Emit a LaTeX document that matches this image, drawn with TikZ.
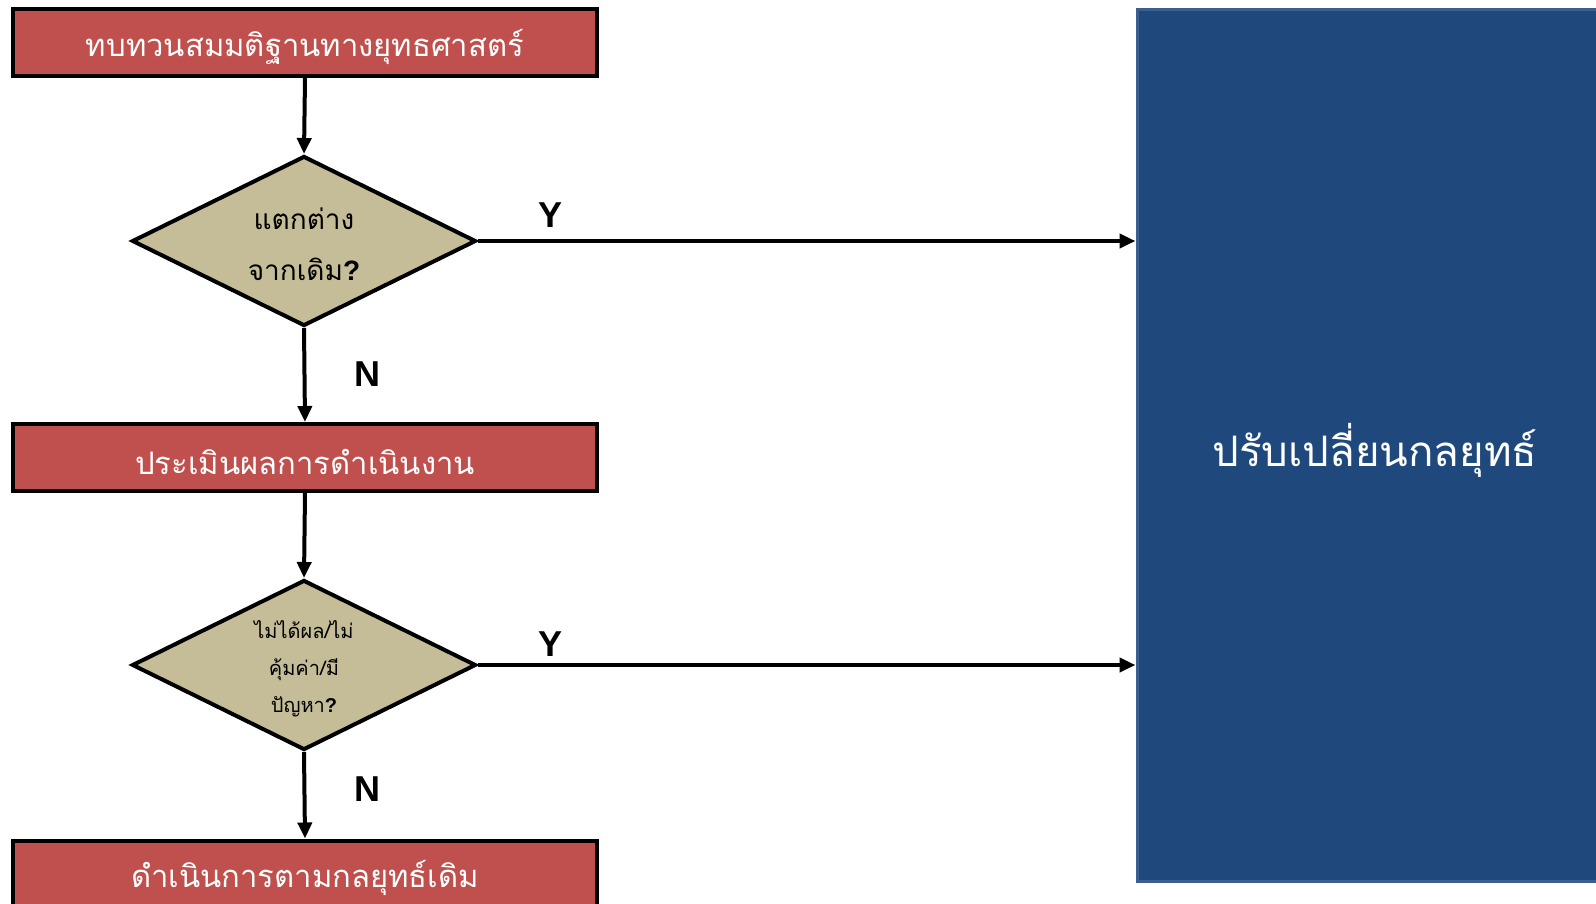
\documentclass[tikz,border=0pt]{standalone}
\usepackage{fontspec}
\newfontfamily\thaifont[Script=Thai]{Loma}
\newfontfamily\latinfont{Liberation Sans}
\usetikzlibrary{shapes.geometric,arrows.meta}
\definecolor{boxred}{HTML}{C0504D}
\definecolor{tan}{HTML}{C4BD97}
\definecolor{navy}{HTML}{1F497D}
\definecolor{navyedge}{HTML}{3A5F8E}
\newcommand{\qmark}{{\latinfont\bfseries ?}}
% lower a line of text without changing the size the node sees
\newcommand{\sunk}[2]{\raisebox{-#1}[\height][\depth]{#2}}
\tikzset{
  stepbox/.style={draw=black, line width=4pt, fill=boxred, text=white,
    minimum width=584pt, minimum height=67pt, inner sep=0pt,
    font=\thaifont\fontsize{31}{36}\selectfont},
  decision/.style={diamond, aspect=2, draw=black, line width=4pt, fill=tan,
    minimum width=344pt, minimum height=170pt, inner sep=0pt, align=center},
  flow/.style={draw=black, line width=4pt, -{Triangle[length=16pt,width=14pt]}},
  yn/.style={font=\latinfont\bfseries\fontsize{36}{40}\selectfont}
}
\begin{document}
\begin{tikzpicture}[x=1pt,y=-1pt]
  \useasboundingbox (0,0) rectangle (1596,903);
  \clip (0,0) rectangle (1596,903);

  % outcome box on the right
  \node[draw=navyedge, line width=3pt, fill=navy, text=white,
        minimum width=476pt, minimum height=872pt, inner sep=0pt,
        font=\thaifont\fontsize{42}{48}\selectfont] (change) at (1375,445)
        {\sunk{5pt}{ปรับเปลี่ยนกลยุทธ์}};

  % main column
  \node[stepbox] (review) at (305,42.5) {\sunk{4pt}{ทบทวนสมมติฐานทางยุทธศาสตร์}};
  \node[decision, font=\thaifont\fontsize{28}{51}\selectfont] (diff) at (304,241)
        {\sunk{3pt}{แตกต่าง}\\\sunk{3pt}{จากเดิม\qmark}};
  \node[stepbox] (assess) at (305,457.5) {\sunk{4pt}{ประเมินผลการดำเนินงาน}};
  \node[decision, font=\thaifont\fontsize{20}{37}\selectfont] (problem) at (304,665)
        {\sunk{4pt}{ไม่ได้ผล/ไม่}\\\sunk{4pt}{คุ้มค่า/มี}\\\sunk{4pt}{ปัญหา\qmark}};
  \node[stepbox] (keep) at (305,874) {\sunk{4pt}{ดำเนินการตามกลยุทธ์เดิม}};

  % connectors
  \draw[flow] (review.south) -- (diff.north);
  \draw[flow] (diff.south) -- (assess.north);
  \draw[flow] (assess.south) -- (problem.north);
  \draw[flow] (problem.south) -- (keep.north);
  \draw[flow] (diff.east) -- (diff.east -| change.west);
  \draw[flow] (problem.east) -- (problem.east -| change.west);

  % branch labels
  \node[yn] (y1) at (550,215) {Y};
  \node[yn] (n1) at (367,374) {N};
  \node[yn] (y2) at (550,644) {Y};
  \node[yn] (n2) at (367,789) {N};
\end{tikzpicture}
\end{document}
